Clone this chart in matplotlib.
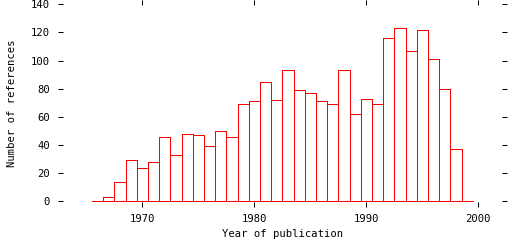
import matplotlib
matplotlib.use("Agg")
import matplotlib.pyplot as plt

years = list(range(1966, 2000))
counts = [0, 3, 14, 29, 24, 28, 46, 33, 48, 47, 39, 50, 46, 69, 71, 85, 72,
          93, 79, 77, 71, 69, 93, 62, 73, 69, 116, 123, 107, 122, 101, 80, 37, 0]

xticks = [1970, 1980, 1990, 2000]
yticks = [0, 20, 40, 60, 80, 100, 120, 140]

plt.rcParams['font.family'] = 'DejaVu Sans Mono'
plt.rcParams['font.size'] = 7.6

fig = plt.figure(figsize=(5.12, 2.4), dpi=100)
ax = fig.add_axes([58/512, 33/240, 449/512, 207/240])

ax.bar(years, counts, width=1.0, facecolor='white', edgecolor='#ff0000',
       linewidth=0.72, antialiased=False)

ax.set_xlim(1962.47, 2002.56)
ax.set_ylim(-4.06, 143.06)
ax.set_xticks(xticks)
ax.set_yticks(yticks)
for s in ax.spines.values():
    s.set_visible(False)
ax.tick_params(direction='in', length=3.3, width=0.72, top=True, right=True,
               labeltop=False, labelright=False)
ax.tick_params(axis='x', pad=5)
ax.tick_params(axis='y', pad=5.8)

ax.set_xlabel('Year of publication', labelpad=3.5)
ax.set_ylabel('Number of references', labelpad=10)

fig.savefig('out.png', dpi=100)
